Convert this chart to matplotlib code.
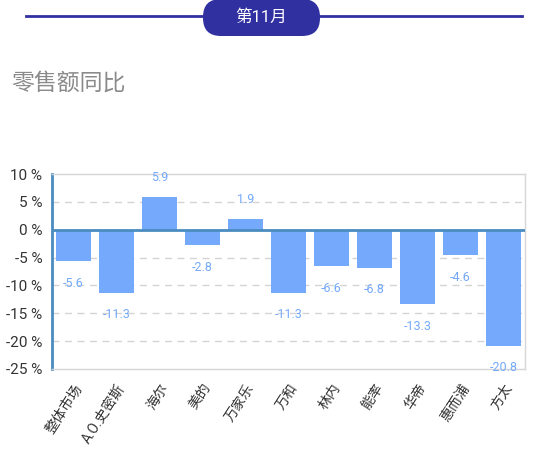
import matplotlib
matplotlib.use('Agg')
import matplotlib.pyplot as plt
from matplotlib.patches import FancyBboxPatch

plt.rcParams['font.family'] = ['Roboto', 'Noto Sans CJK SC', 'DejaVu Sans']

# data
brands = ['整体市场', 'A.O.史密斯', '海尔', '美的', '万家乐', '万和',
          '林内', '能率', '华帝', '惠而浦', '方太']
yoy = [-5.6, -11.3, 5.9, -2.8, 1.9, -11.3, -6.6, -6.8, -13.3, -4.6, -20.8]
y_ticks = [10, 5, 0, -5, -10, -15, -20, -25]
month_label = '第11月'
chart_title = '零售额同比'

W, H = 550, 462
fig = plt.figure(figsize=(W / 100, H / 100), dpi=100)
fig.patch.set_facecolor('white')

# header drawn on a pixel-coordinate overlay
deco = fig.add_axes([0, 0, 1, 1])
deco.set_xlim(0, W)
deco.set_ylim(H, 0)
deco.axis('off')
navy = '#3030a0'
deco.plot([26, 522], [16, 16], color=navy, lw=2)
deco.add_patch(FancyBboxPatch((203, -1), 117, 37,
                              boxstyle='round,pad=0,rounding_size=18',
                              facecolor=navy, edgecolor='none'))
deco.text(261.5, 17, month_label, color='white', fontsize=12,
          ha='center', va='center')
deco.text(11, 83, chart_title, color='#8a8a8a', fontsize=16.5,
          ha='left', va='center')

ax = fig.add_axes([52 / W, 1 - 369 / H, 473 / W, 195 / H])
x = list(range(len(brands)))
bar_color = '#74a9fb'
ax.bar(x, yoy, width=0.82, color=bar_color, zorder=2)

ax.set_xlim(-0.5, len(brands) - 0.5)
ax.set_ylim(-25, 10)
ax.set_yticks(y_ticks)
ax.set_yticklabels([f'{t} %' for t in y_ticks], fontsize=11, color='#333333')
ax.set_xticks(x)
ax.set_xticklabels(brands, rotation=57, ha='right', rotation_mode='anchor',
                   fontsize=10, color='#333333')
ax.tick_params(axis='y', length=0, pad=7)
ax.tick_params(axis='x', length=0, pad=9)

for t in [5, -5, -10, -15, -20]:
    ax.axhline(t, color='#d4d4d4', lw=1, ls=(0, (5, 4)), zorder=1)
ax.axhline(0, color='#4a8cc0', lw=2, zorder=3)

for side in ['top', 'right', 'bottom']:
    ax.spines[side].set_color('#d6d6d6')
    ax.spines[side].set_linewidth(1)
ax.spines['left'].set_color('#4a8cc0')
ax.spines['left'].set_linewidth(2)

for xi, v in zip(x, yoy):
    if v >= 0:
        ax.annotate(f'{v}', (xi, v), xytext=(0, 14), textcoords='offset points',
                    ha='center', va='center', fontsize=9, color=bar_color)
    else:
        ax.annotate(f'{v}', (xi, v), xytext=(0, -16), textcoords='offset points',
                    ha='center', va='center', fontsize=9, color=bar_color)

fig.savefig('out.png', dpi=100)
